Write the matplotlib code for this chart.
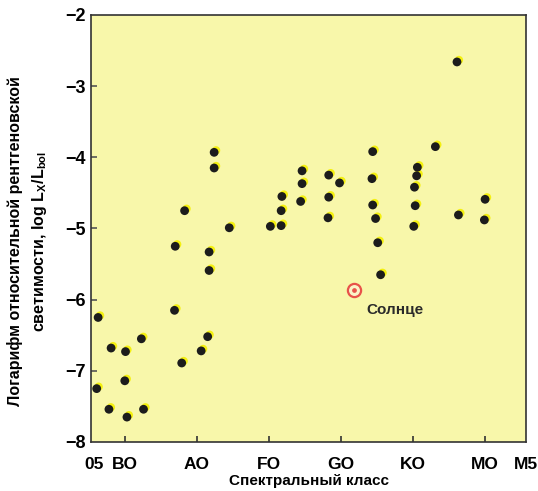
import numpy as np
import matplotlib
matplotlib.use('Agg')
import matplotlib.pyplot as plt
from matplotlib.transforms import offset_copy

# spectral class: B0=0, A0=1, F0=2, G0=3, K0=4, M0=5
sp_class = [-0.37, -0.39, -0.19, -0.22, 0.01, 0.00, 0.03, 0.23, 0.26, 0.69,
            0.79, 0.70, 0.83, 1.06, 1.15, 1.17, 1.17, 1.24, 1.24, 1.45,
            2.02, 2.17, 2.17, 2.18, 2.46, 2.46, 2.44, 2.83, 2.83, 2.82,
            2.98, 3.44, 3.43, 3.44, 3.48, 3.51, 3.55, 4.31, 4.06, 4.05,
            4.02, 4.03, 4.01, 4.61, 4.63, 5.00, 4.99]
log_lx = [-6.25, -7.25, -6.68, -7.54, -6.73, -7.14, -7.65, -6.55, -7.54, -6.15,
          -6.89, -5.25, -4.75, -6.72, -6.52, -5.33, -5.59, -3.93, -4.15, -4.99,
          -4.97, -4.96, -4.75, -4.55, -4.19, -4.37, -4.62, -4.25, -4.56, -4.85,
          -4.36, -3.92, -4.30, -4.67, -4.86, -5.20, -5.65, -3.85, -4.14, -4.26,
          -4.42, -4.68, -4.97, -2.66, -4.81, -4.59, -4.88]
sun_x, sun_y = 3.18, -5.87

tick_pos = [-0.42, 0, 1, 2, 3, 4, 5, 5.57]
tick_lab = ['05', 'BO', 'AO', 'FO', 'GO', 'KO', 'MO', 'M5']

plt.rcParams['font.family'] = ['Liberation Sans', 'DejaVu Sans']

fig = plt.figure(figsize=(5.38, 4.91), dpi=100)
ax = fig.add_axes([0.169, 0.0998, 0.809, 0.8697])
ax.set_facecolor('#f8f7aa')

# yellow misregistration halo, shifted up-right
halo = offset_copy(ax.transData, fig=fig, x=1.4, y=1.4, units='points')
ax.scatter(sp_class, log_lx, s=36, color='#f4f010', edgecolors='none',
           transform=halo, zorder=2)
ax.scatter(sp_class, log_lx, s=40, color='#1c1c1c', edgecolors='none', zorder=3)

# Sun
ax.plot(sun_x, sun_y, 'o', ms=9.5, mfc='#fbf3c8', mec='#e8524a', mew=1.6, zorder=4)
ax.plot(sun_x, sun_y, 'o', ms=2.4, color='#e8524a', zorder=5)
ax.text(sun_x + 0.17, sun_y - 0.28, 'Солнце', fontsize=11, color='#2a2a2a',
        va='center', ha='left', fontweight='bold')

ax.set_xlim(-0.47, 5.57)
ax.set_ylim(-8, -2)
ax.set_xticks(tick_pos)
ax.set_xticklabels(tick_lab, fontsize=12.5, fontweight='bold')
ax.set_yticks([-8, -7, -6, -5, -4, -3, -2])
ax.set_yticklabels(['\u22128', '\u22127', '\u22126', '\u22125', '\u22124', '\u22123', '\u22122'],
                   fontsize=13, fontweight='bold')
ax.tick_params(axis='x', direction='in', length=4, width=1.2, color='#333333', pad=11)
ax.tick_params(axis='y', direction='in', length=4, width=1.2, color='#555555', pad=4)
xt = ax.xaxis.get_major_ticks()
xt[0].tick1line.set_visible(False)
xt[-1].tick1line.set_visible(False)
yt = ax.yaxis.get_major_ticks()
yt[0].tick1line.set_visible(False)
yt[-1].tick1line.set_visible(False)

for sp in ax.spines.values():
    sp.set_color('#333333')
    sp.set_linewidth(1.2)

ax.set_xlabel('Спектральный класс', fontsize=11, fontweight='bold', labelpad=1)
ax.set_ylabel('Логарифм относительной рентгеновской\n'
              r'светимости, log L$_\mathregular{X}$/L$_\mathregular{bol}$',
              fontsize=11.5, fontweight='bold', linespacing=1.45)
ax.yaxis.set_label_coords(-0.097, 0.47)

plt.savefig('out.png', dpi=100)
plt.close()
